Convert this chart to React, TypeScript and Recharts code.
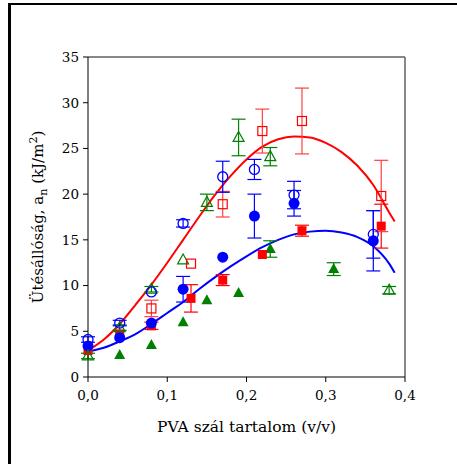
import React from 'react';
import { ComposedChart, Line, Scatter, ErrorBar, XAxis, YAxis, ReferenceLine } from 'recharts';

const xTicks = [0, 0.1, 0.2, 0.3, 0.4];
const yTicks = [0, 5, 10, 15, 20, 25, 30, 35];

// open blue circles / filled blue circles
const blueX = [0, 0.04, 0.08, 0.12, 0.17, 0.21, 0.26, 0.36];
const openBlueY = [4.1, 5.9, 9.3, 16.8, 21.9, 22.7, 19.9, 15.6];
const openBlueErr = [0.3, 0.3, null, 0.4, 1.7, 1.1, 1.5, 2.6];
const fillBlueY = [3.4, 4.3, 5.9, 9.6, 13.1, 17.6, 19.0, 14.9];
const fillBlueErr = [null, null, null, 1.4, null, 2.4, 1.4, 3.3];

// open red squares / filled red squares
const openRedX = [0.08, 0.13, 0.17, 0.22, 0.27, 0.37];
const openRedY = [7.5, 12.4, 18.9, 26.9, 28.0, 19.8];
const openRedErr = [0.9, null, 1.4, 2.4, 3.6, 3.9];
const fillRedX = [0, 0.04, 0.08, 0.13, 0.17, 0.22, 0.27, 0.37];
const fillRedY = [2.9, 4.7, 5.6, 8.6, 10.6, 13.4, 16.0, 16.5];
const fillRedErr = [null, null, 0.4, 1.5, 0.6, null, 0.6, 2.4];

// open green triangles / filled green triangles
const openGreenX = [0, 0.04, 0.08, 0.12, 0.15, 0.19, 0.23, 0.38];
const openGreenY = [2.3, 5.4, 9.6, 12.8, 19.1, 26.2, 24.1, 9.5];
const openGreenErr = [0.3, 0.3, 0.3, null, 0.9, 2.0, 1.0, 0.4];
const fillGreenX = [0.04, 0.08, 0.12, 0.15, 0.19, 0.23, 0.31];
const fillGreenY = [2.4, 3.5, 6.0, 8.4, 9.2, 14.0, 11.8];
const fillGreenErr = [null, null, null, null, null, 0.9, 0.7];

// fitted curves
const curveX = [0, 0.02, 0.04, 0.06, 0.08, 0.1, 0.12, 0.14, 0.16, 0.18, 0.2, 0.22, 0.24, 0.26, 0.28, 0.3, 0.32, 0.34, 0.36, 0.38, 0.387];
const redCurveY = [2.9, 4.1, 5.8, 7.9, 10.1, 12.5, 15.0, 17.5, 19.9, 22.0, 23.8, 25.2, 26.0, 26.3, 26.2, 25.6, 24.6, 23.1, 21.0, 18.0, 17.0];
const blueCurveY = [2.8, 3.2, 3.9, 4.7, 5.8, 7.0, 8.2, 9.6, 10.9, 12.1, 13.2, 14.2, 15.0, 15.6, 15.9, 16.0, 15.8, 15.3, 14.3, 12.4, 11.4];

const pts = (xs: number[], ys: number[], errs?: (number | null)[]) =>
  xs.map((x, i) => ({ x, y: ys[i], err: errs ? errs[i] : null }));

const font = 'DejaVu Serif';
const BLUE = '#0000ff';
const RED = '#ff0000';
const GREEN = '#008000';

const openCircle = (p: any) => <circle cx={p.cx} cy={p.cy} r={5} fill="none" stroke={BLUE} strokeWidth={1.3} />;
const fillCircle = (p: any) => <circle cx={p.cx} cy={p.cy} r={5.5} fill={BLUE} />;
const openSquare = (p: any) => <rect x={p.cx - 4.5} y={p.cy - 4.5} width={9} height={9} fill="none" stroke={RED} strokeWidth={1.2} />;
const fillSquare = (p: any) => <rect x={p.cx - 4.5} y={p.cy - 4.5} width={9} height={9} fill={RED} />;
const tri = (cx: number, cy: number) => `M${cx},${cy - 6} L${cx + 5.5},${cy + 4} L${cx - 5.5},${cy + 4} Z`;
const openTri = (p: any) => <path d={tri(p.cx, p.cy)} fill="none" stroke={GREEN} strokeWidth={1.2} />;
const fillTri = (p: any) => <path d={tri(p.cx, p.cy)} fill={GREEN} />;

const yLabel = () => (
  <text x={0} y={0} transform="translate(43,217) rotate(-90)" textAnchor="middle" fontFamily={font} fontSize={15} fill="#000">
    Ütésállóság, a
    <tspan fontSize={11} dy={4}>n</tspan>
    <tspan dy={-4}> (kJ/m</tspan>
    <tspan fontSize={11} dy={-6}>2</tspan>
    <tspan dy={6}>)</tspan>
  </text>
);

export default function App() {
  return (
    <div style={{ position: 'absolute', left: 0, top: 0, width: 457, height: 464, overflow: 'hidden', background: '#fff' }}>
      <div style={{ position: 'absolute', left: 8, top: 3, width: 470, height: 480, borderLeft: '3px solid #000', borderTop: '2.5px solid #000' }} />
      <div style={{ position: 'absolute', left: 0, top: 0 }}>
        <ComposedChart width={457} height={464} margin={{ top: 57, right: 52, bottom: 57, left: 48 }}>
          <XAxis
            type="number"
            dataKey="x"
            domain={[0, 0.4]}
            ticks={xTicks}
            tickFormatter={(v: number) => v.toFixed(1).replace('.', ',')}
            tick={{ fontFamily: font, fontSize: 13.5, fill: '#000' }}
            tickSize={5}
            tickMargin={8}
            height={30}
            stroke="#000"
            label={{ value: 'PVA szál tartalom (v/v)', position: 'insideBottom', offset: -25, fontFamily: font, fontSize: 15.5, fill: '#000' }}
          />
          <YAxis
            type="number"
            dataKey="y"
            domain={[0, 35]}
            ticks={yTicks}
            tick={{ fontFamily: font, fontSize: 13.5, fill: '#000' }}
            tickSize={5}
            tickMargin={4}
            width={40}
            stroke="#000"
            label={{ content: yLabel }}
          />
          <ReferenceLine y={35} stroke="#606060" strokeWidth={1.5} />
          <ReferenceLine x={0.4} stroke="#606060" strokeWidth={1.5} />
          <Line data={pts(curveX, redCurveY)} dataKey="y" type="monotone" stroke={RED} strokeWidth={2} dot={false} isAnimationActive={false} />
          <Line data={pts(curveX, blueCurveY)} dataKey="y" type="monotone" stroke={BLUE} strokeWidth={2} dot={false} isAnimationActive={false} />
          <Scatter data={pts(fillGreenX, fillGreenY, fillGreenErr)} dataKey="y" shape={fillTri} isAnimationActive={false}>
            <ErrorBar dataKey="err" direction="y" width={7} stroke={GREEN} strokeWidth={1.2} />
          </Scatter>
          <Scatter data={pts(fillRedX, fillRedY, fillRedErr)} dataKey="y" shape={fillSquare} isAnimationActive={false}>
            <ErrorBar dataKey="err" direction="y" width={7} stroke={RED} strokeWidth={1.2} />
          </Scatter>
          <Scatter data={pts(blueX, fillBlueY, fillBlueErr)} dataKey="y" shape={fillCircle} isAnimationActive={false}>
            <ErrorBar dataKey="err" direction="y" width={7} stroke={BLUE} strokeWidth={1.2} />
          </Scatter>
          <Scatter data={pts(openGreenX, openGreenY, openGreenErr)} dataKey="y" shape={openTri} isAnimationActive={false}>
            <ErrorBar dataKey="err" direction="y" width={7} stroke={GREEN} strokeWidth={1.2} />
          </Scatter>
          <Scatter data={pts(openRedX, openRedY, openRedErr)} dataKey="y" shape={openSquare} isAnimationActive={false}>
            <ErrorBar dataKey="err" direction="y" width={7} stroke="#ff4040" strokeWidth={1.2} />
          </Scatter>
          <Scatter data={pts(blueX, openBlueY, openBlueErr)} dataKey="y" shape={openCircle} isAnimationActive={false}>
            <ErrorBar dataKey="err" direction="y" width={7} stroke={BLUE} strokeWidth={1.2} />
          </Scatter>
        </ComposedChart>
      </div>
    </div>
  );
}
